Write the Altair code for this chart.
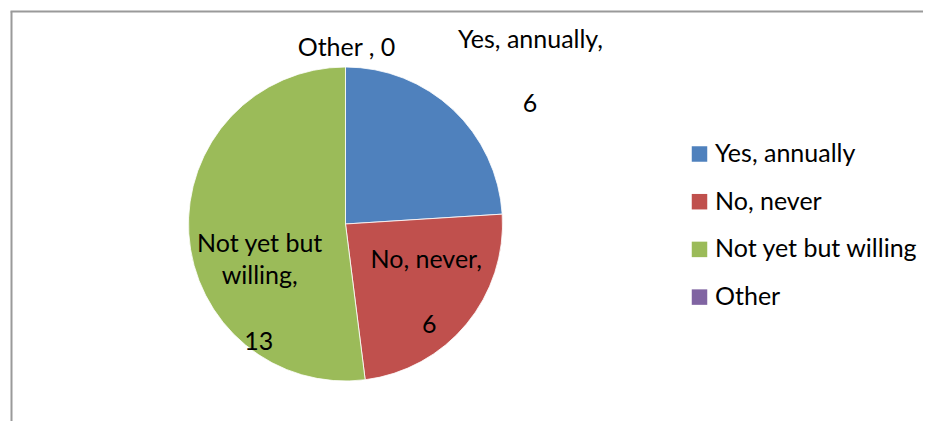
import altair as alt
import pandas as pd

# ---- data ----
categories = ["Yes, annually", "No, never", "Not yet but willing", "Other"]
values = [6, 6, 13, 0]
colors = ["#4F81BD", "#C0504D", "#9BBB59", "#8064A2"]
wrapped_names = {"Not yet but willing": "Not yet but\nwilling"}

name_labels = []
value_labels = []
for cat, val in zip(categories, values):
    if val == 0:
        name_labels.append(f"{cat} , {val}")
        value_labels.append("")
    else:
        name_labels.append(f"{wrapped_names.get(cat, cat)},")
        value_labels.append(str(val))

df = pd.DataFrame({
    "category": categories,
    "value": values,
    "order": list(range(len(categories))),
    "name_label": name_labels,
    "value_label": value_labels,
})

# ---- layout / style ----
FONT = "Lato"
FS = 25
CX, CY, R = 337.5, 216, 157
# (category, text field, radius, dx, dy)
label_layout = [
    ("Yes, annually", "name_label", 230, 27.5, -8),
    ("Yes, annually", "value_label", 230, 27, 56),
    ("No, never", "name_label", 106, -1, -24),
    ("No, never", "value_label", 106, 2, 41),
    ("Not yet but willing", "name_label", 90, 4, 22),
    ("Not yet but willing", "value_label", 90, 3, 120),
    ("Other", "name_label", 175, 1, 7),
]

base = alt.Chart(df)

arc = base.mark_arc(radius=R, stroke="white").encode(
    theta=alt.Theta("value:Q", stack=True),
    order=alt.Order("order:Q"),
    color=alt.Color(
        "category:N",
        scale=alt.Scale(domain=categories, range=colors),
        legend=alt.Legend(
            title=None, orient="none", legendX=679, legendY=133.5,
            symbolType="square", symbolSize=240, symbolStrokeWidth=0,
            symbolOpacity=1,
            labelFont=FONT, labelFontSize=FS, labelColor="black",
            labelOffset=3, rowPadding=21.7, padding=0, labelLimit=400,
        ),
    ),
    strokeWidth=alt.condition("datum.value > 0", alt.value(0.8), alt.value(0)),
    x=alt.value(CX),
    y=alt.value(CY),
)

text_base = (
    base.transform_joinaggregate(total="sum(value)")
    .transform_window(cum="sum(value)", sort=[alt.SortField("order")], frame=[None, 0])
    .transform_calculate(mid_angle="2*PI*(datum.cum - datum.value/2)/datum.total")
)

text_layers = []
for cat, field, r, dx, dy in label_layout:
    text_layers.append(
        text_base.transform_filter(alt.datum.category == cat)
        .mark_text(radius=r, dx=dx, dy=dy, font=FONT, fontSize=FS, color="black",
                   lineBreak="\n", lineHeight=32, align="center", baseline="alphabetic")
        .encode(
            theta=alt.Theta("mid_angle:Q", scale=None),
            text=alt.Text(f"{field}:N"),
            x=alt.value(CX),
            y=alt.value(CY),
        )
    )

frame_df = pd.DataFrame({"a": [0]})
frame_v = alt.Chart(frame_df).mark_rule(color="#9a9a9a", strokeWidth=2).encode(
    x=alt.value(3.5), y=alt.value(3.5), y2=alt.value(440)
)
frame_h = alt.Chart(frame_df).mark_rule(color="#9a9a9a", strokeWidth=2).encode(
    x=alt.value(2.5), x2=alt.value(940), y=alt.value(3.5)
)

chart = (
    alt.layer(frame_v, frame_h, arc, *text_layers)
    .properties(width=915, height=413, padding=0, autosize="none", background="white")
    .configure_view(stroke=None)
)

chart.save("out.html", embed_options={"renderer": "svg", "actions": False})
